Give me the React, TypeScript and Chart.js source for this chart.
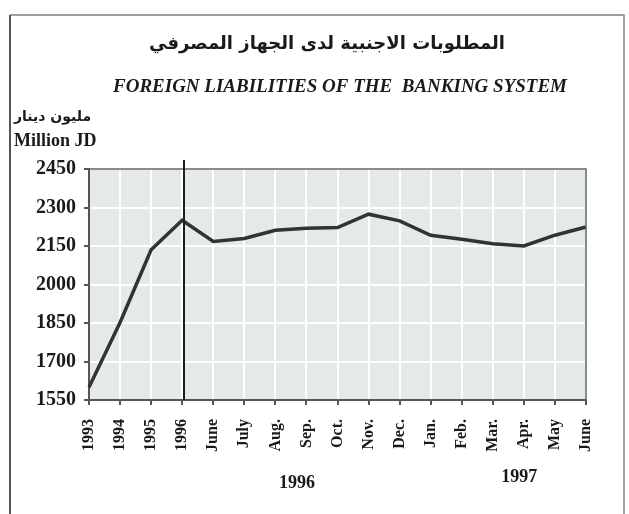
import React, { useEffect, useRef } from "react";
import { Chart, registerables } from "chart.js";

Chart.register(...registerables);

// ---- data ----
const categories = ["1993", "1994", "1995", "1996", "June", "July", "Aug.", "Sep.", "Oct.", "Nov.", "Dec.", "Jan.", "Feb.", "Mar.", "Apr.", "May", "June"];
const liabilities = [1600, 1852, 2135, 2250, 2168, 2179, 2211, 2219, 2222, 2274, 2248, 2192, 2176, 2159, 2150, 2192, 2224];
const yMin = 1550;
const yMax = 2450;
const yStep = 150;
const titleAr = "المطلوبات الاجنبية لدى الجهاز المصرفي";
const titleEn = "FOREIGN LIABILITIES OF THE  BANKING SYSTEM";
const unitAr = "مليون دينار";
const unitEn = "Million JD";
const yearLabels = ["1996", "1997"];
const yearLabelIndex = [6.7, 13.85];
const dividerIndex = 3.05;

const W = 629;
const H = 514;
const SERIF = "'Liberation Serif', 'Times New Roman', serif";

const decor = {
  id: "decor",
  beforeDraw(chart: any) {
    const { ctx, chartArea: a } = chart;
    ctx.save();
    ctx.fillStyle = "#ffffff";
    ctx.fillRect(0, 0, chart.width, chart.height);
    ctx.fillStyle = "#e4eaea";
    ctx.fillRect(a.left, a.top, a.right - a.left, a.bottom - a.top);

    // outer frame
    ctx.strokeStyle = "#808080";
    ctx.lineWidth = 1.5;
    ctx.beginPath();
    ctx.moveTo(624, H);
    ctx.lineTo(624, 15);
    ctx.lineTo(10, 15);
    ctx.stroke();
    ctx.strokeStyle = "#555";
    ctx.lineWidth = 2;
    ctx.beginPath();
    ctx.moveTo(10, 15);
    ctx.lineTo(10, H);
    ctx.stroke();

    // titles
    ctx.fillStyle = "#1a1a1a";
    ctx.textBaseline = "middle";
    ctx.direction = "rtl";
    ctx.textAlign = "center";
    ctx.font = "bold 18px 'DejaVu Sans'";
    ctx.fillText(titleAr, 327, 44);
    ctx.direction = "ltr";
    ctx.font = `italic bold 19px ${SERIF}`;
    ctx.fillText(titleEn, 340, 87);

    ctx.direction = "rtl";
    ctx.font = "bold 14px 'DejaVu Sans'";
    ctx.textAlign = "left";
    ctx.fillText(unitAr, 14, 117);
    ctx.direction = "ltr";
    ctx.font = `bold 18px ${SERIF}`;
    ctx.fillText(unitEn, 14, 141);

    // year group labels
    const xs = chart.scales.x;
    ctx.textAlign = "center";
    ctx.font = `bold 18px ${SERIF}`;
    ctx.fillText(yearLabels[0], xs.getPixelForValue(yearLabelIndex[0]), 483);
    ctx.fillText(yearLabels[1], xs.getPixelForValue(yearLabelIndex[1]), 477);
    ctx.restore();
  },
  afterDraw(chart: any) {
    const { ctx, chartArea: a } = chart;
    const xs = chart.scales.x;
    ctx.save();
    // top/right plot border
    ctx.strokeStyle = "#666";
    ctx.lineWidth = 1.5;
    ctx.beginPath();
    ctx.moveTo(a.left, a.top);
    ctx.lineTo(a.right, a.top);
    ctx.lineTo(a.right, a.bottom);
    ctx.stroke();
    // divider line
    const x = Math.round(xs.getPixelForValue(dividerIndex));
    ctx.strokeStyle = "#1e1e1e";
    ctx.lineWidth = 2;
    ctx.beginPath();
    ctx.moveTo(x, a.top - 9);
    ctx.lineTo(x, a.bottom);
    ctx.stroke();
    ctx.restore();
  },
};

export default function App() {
  const ref = useRef<HTMLCanvasElement | null>(null);
  useEffect(() => {
    if (!ref.current) return;
    const chart = new Chart(ref.current, {
      type: "line",
      data: {
        labels: categories,
        datasets: [
          {
            data: liabilities,
            borderColor: "#333333",
            borderWidth: 3.5,
            pointRadius: 0,
            tension: 0,
            fill: false,
          },
        ],
      },
      options: {
        animation: false,
        responsive: false,
        devicePixelRatio: 1,
        layout: { padding: { top: 169, right: 43, left: 0, bottom: 0 } },
        plugins: { legend: { display: false }, tooltip: { enabled: false }, title: { display: false } },
        scales: {
          x: {
            offset: false,
            afterFit: (s: any) => {
              s.height = H - 400;
            },
            grid: { color: "#ffffff", lineWidth: 2, tickColor: "#555", tickLength: 5, drawTicks: true },
            border: { display: true, color: "#555", width: 2 },
            ticks: {
              autoSkip: false,
              maxRotation: 90,
              minRotation: 90,
              padding: 14,
              color: "#1a1a1a",
              font: { family: SERIF, weight: "bold", size: 16 },
            },
          },
          y: {
            min: yMin,
            max: yMax,
            afterFit: (s: any) => {
              s.width = 89;
            },
            grid: { color: "#ffffff", lineWidth: 2, tickColor: "#555", tickLength: 5, drawTicks: true },
            border: { display: true, color: "#555", width: 2 },
            ticks: {
              stepSize: yStep,
              padding: 8,
              color: "#1a1a1a",
              font: { family: SERIF, weight: "bold", size: 20 },
              callback: (v: any) => String(v),
            },
          },
        },
      },
      plugins: [decor],
    });
    return () => chart.destroy();
  }, []);
  return (
    <div style={{ position: "absolute", left: 0, top: 0, width: W, height: H, background: "#fff" }}>
      <canvas ref={ref} width={W} height={H} style={{ width: W, height: H, display: "block" }} />
    </div>
  );
}
